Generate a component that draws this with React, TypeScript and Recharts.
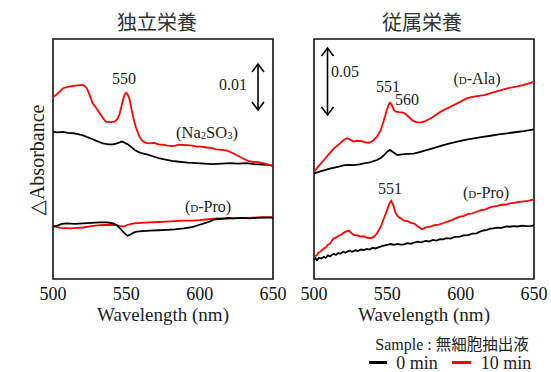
import React from 'react'
import { LineChart, Line, XAxis, YAxis, ReferenceArea } from 'recharts'

// ΔA values in units of 0.001 (left 0.01, right 0.05)
const wavelengthTicks = [500, 550, 600, 650]

// 独立栄養 panel
const naZero: [number, number][] = [
  [500, 32.0], [503, 31.9], [507, 32.0], [510, 31.8], [514, 31.7], [517, 31.5], [520, 31.3], [523, 30.9],
  [527, 30.4], [530, 30.0], [534, 29.5], [538, 29.3], [541, 29.3], [543.5, 29.5], [545.5, 29.7], [547, 29.9],
  [548, 29.8], [549.5, 29.5], [551, 29.3], [553, 28.8], [556, 28.0], [558.5, 27.6], [561, 27.3], [564, 27.1],
  [568, 26.7], [572, 26.3], [576, 26.0], [581, 25.7], [586, 25.5], [592, 25.3], [598, 25.2], [603, 25.1],
  [609, 25.0], [615, 25.1], [620.5, 25.2], [626, 25.1], [632, 25.2], [637, 25.0], [643, 24.9], [647, 24.8], [650, 24.6],
]
const naTen: [number, number][] = [
  [500, 39.6], [502, 40.0], [504, 40.6], [507, 41.5], [510, 41.8], [514, 42.0], [517, 42.1], [520, 42.2],
  [522, 41.9], [523.5, 41.2], [525, 40.0], [527, 38.2], [529, 37.4], [532, 36.0], [534, 35.0], [536, 34.2],
  [539, 34.1], [542, 34.2], [544, 34.8], [545.5, 36.0], [547, 38.0], [548, 39.3], [549, 40.2], [550, 40.5],
  [551, 40.1], [552, 39.3], [553.5, 37.0], [555, 34.8], [556.5, 33.0], [559, 30.9], [561, 30.0], [563.5, 29.6],
  [566, 29.5], [569, 29.6], [572, 29.3], [575, 29.2], [578, 29.0], [582, 28.9], [586, 29.2], [591, 29.1],
  [595, 29.0], [598, 28.8], [601, 28.8], [604.5, 28.6], [608, 28.5], [611, 28.2], [615, 28.1], [618, 28.0],
  [621, 27.6], [623, 27.3], [626, 26.8], [629.5, 26.2], [633, 25.7], [636, 25.5], [640, 25.4], [643, 25.2],
  [647, 24.9], [650, 24.6],
]
const lProZero: [number, number][] = [
  [500, 11.4], [503, 11.6], [506, 12.0], [509, 12.1], [515, 12.0], [520.7, 12.1], [526, 12.2], [532, 12.3],
  [537, 12.3], [541, 12.1], [543.5, 11.7], [545.7, 11.0], [548, 10.2], [550, 9.6], [551, 9.4], [553, 9.7],
  [555, 10.1], [557, 10.3], [561, 10.4], [566, 10.5], [572, 10.6], [577.5, 10.7], [583, 10.8], [589, 11.0],
  [593, 11.2], [596, 11.4], [600, 11.8], [604, 12.2], [607, 12.5], [609.5, 12.9], [611.6, 13.0], [615, 13.1],
  [619, 13.3], [623, 13.2], [628, 13.3], [634, 13.2], [639, 13.3], [644, 13.4], [650, 13.3],
]
const lProTen: [number, number][] = [
  [500, 11.5], [505, 11.1], [511.6, 11.0], [516, 11.1], [520.7, 11.2], [526, 11.5], [532, 11.7], [538, 11.8],
  [543, 11.7], [546, 11.5], [548, 11.4], [551, 11.8], [555, 12.1], [560, 12.2], [566, 12.3], [572, 12.4],
  [577.5, 12.5], [583, 12.6], [589, 12.7], [595, 12.7], [600, 12.8], [606, 13.0], [611.6, 13.2], [617, 13.1],
  [623, 13.2], [628, 13.3], [634, 13.3], [640, 13.4], [645, 13.4], [650, 13.5],
]

// 従属栄養 panel
const alaZero: [number, number][] = [
  [500, 78.9], [505, 80.5], [511.4, 82.6], [517, 83.8], [520, 84.8], [522.7, 85.1], [527, 85.0], [531, 85.6],
  [534, 86.3], [538, 87.0], [543, 88.8], [545.5, 90.3], [547.7, 92.5], [550, 95.0], [551.8, 96.3], [553.5, 95.0],
  [556.8, 92.5], [560, 93.0], [563.6, 93.3], [568, 93.6], [572, 94.7], [576, 95.9], [581, 97.5], [586.4, 99.3],
  [592, 101.0], [597.7, 102.5], [603, 103.8], [609, 105.0], [615, 106.0], [620.5, 106.9], [626, 107.9],
  [631.8, 108.7], [637, 109.5], [643, 110.4], [650, 111.7],
]
const alaTen: [number, number][] = [
  [500, 80.1], [503, 84.0], [506.8, 88.8], [510, 93.0], [513.6, 97.5], [517, 100.5], [520, 103.5], [522.7, 105.0],
  [525, 103.8], [527, 102.5], [529, 103.0], [531.8, 103.0], [535, 102.0], [537.5, 101.7], [540, 103.0],
  [543, 106.2], [545.5, 111.0], [547.7, 118.7], [549.5, 125.5], [551, 130.5], [551.8, 131.6], [553, 130.0],
  [554.5, 126.0], [555.7, 124.9], [558, 124.5], [560, 124.4], [562, 123.5], [564.8, 120.7], [567.5, 118.0],
  [570.4, 116.9], [573, 116.9], [575, 117.4], [580, 120.2], [586.4, 124.9], [592, 128.0], [597.7, 131.1],
  [604.5, 134.9], [610, 136.2], [616, 137.3], [624, 139.8], [631.8, 142.3], [638, 143.6], [643, 144.8], [650, 147.2],
]
const rProZero: [number, number][] = [
  [500, 14.2], [501, 15.6], [502, 14.0], [503.5, 15.9], [505, 15.3], [506.8, 16.6], [508, 15.8], [509.5, 17.6],
  [511, 16.9], [512.5, 18.3], [513.6, 18.7], [515, 17.9], [516.5, 19.4], [518, 18.8], [520, 20.3], [521.5, 19.6],
  [522.7, 20.4], [524.5, 21.2], [526, 20.3], [528, 21.4], [530, 20.9], [532, 22.0], [534, 21.6], [536, 22.5],
  [538, 22.0], [540, 23.3], [542, 22.8], [545.4, 24.1], [547, 24.8], [549, 25.3], [550.5, 25.6], [552.3, 26.1],
  [554.5, 25.5], [557, 26.2], [559, 25.6], [561.4, 25.9], [563.5, 26.8], [566, 26.3], [568.2, 27.1], [570.5, 27.8],
  [573, 27.3], [576, 28.4], [578.5, 28.0], [581, 29.2], [583.5, 28.7], [586, 29.8], [588, 29.6], [590.5, 30.5],
  [593, 30.2], [596, 31.4], [599.5, 31.6], [602, 32.6], [605, 32.8], [608, 33.9], [610.9, 34.1], [613, 35.3],
  [615.5, 36.2], [618, 36.7], [620, 37.5], [622, 37.8], [625, 38.4], [628, 38.2], [631, 39.2], [633.6, 39.0],
  [636, 39.5], [639, 39.2], [642, 39.8], [645, 39.4], [648.4, 39.6], [650, 40.0],
]
const rProTen: [number, number][] = [
  [501, 17.0], [502, 17.9], [503, 19.5], [504.5, 20.6], [506.8, 22.9], [508, 23.5], [509.5, 25.6], [511, 26.4],
  [512.5, 29.0], [513.6, 30.4], [515, 30.8], [517, 32.5], [518.5, 33.0], [520.4, 34.6], [522, 35.5], [523.9, 36.0],
  [525.5, 34.2], [527.3, 32.8], [529.5, 32.5], [531.8, 31.6], [534, 31.9], [536, 30.8], [538.6, 30.4], [541, 31.6],
  [543, 34.1], [545.5, 39.0], [547.7, 45.3], [550, 52.0], [551.5, 56.5], [552.7, 58.4], [554, 55.2], [555.7, 49.0],
  [557.5, 46.4], [559.5, 45.0], [561.4, 43.5], [564, 43.2], [566, 41.8], [568, 41.6], [570.5, 39.5], [573.4, 37.1],
  [576, 38.5], [579, 38.9], [582, 40.2], [585, 40.6], [588, 41.6], [591, 42.8], [594, 43.9], [596.5, 45.2],
  [599.5, 46.5], [602, 47.0], [605, 48.6], [608, 49.0], [610.9, 50.2], [614, 51.4], [617, 52.0], [619.5, 53.3],
  [622, 54.0], [625, 54.6], [628, 55.4], [631, 55.6], [633.6, 56.5], [637, 57.0], [640, 57.6], [643, 58.0],
  [646, 58.3], [648.4, 59.0], [650, 59.2],
]

const serif = 'Liberation Serif, DejaVu Serif, serif'
const cjk = 'Noto Sans CJK JP, sans-serif'

const toPts = (a: [number, number][]) => a.map(([x, y]) => ({ x, y }))

function Txt({ x, y, size = 16, font = serif, color = '#222', children }: any) {
  return (
    <div
      style={{
        position: 'absolute', left: x, top: y, transform: 'translate(-50%, -50%)',
        fontFamily: font, fontSize: size, color, whiteSpace: 'nowrap', lineHeight: 1,
      }}
    >
      {children}
    </div>
  )
}

function Panel({ left, yMax, series }: { left: number; yMax: number; series: { pts: [number, number][]; color: string }[] }) {
  return (
    <div style={{ position: 'absolute', left, top: 0, fontFamily: serif }}>
      <LineChart width={290} height={330} margin={{ top: 39, left: 53, right: 17, bottom: 21 }} style={{ fontFamily: serif }}>
        <XAxis
          dataKey="x" type="number" domain={[500, 650]} ticks={wavelengthTicks}
          axisLine={false} tickLine={false} height={30}
          tick={{ fill: '#111', fontSize: 18, fontFamily: serif }}
          allowDataOverflow
        />
        <YAxis type="number" domain={[0, yMax]} hide allowDataOverflow />
        {series.map((s, i) => (
          <Line
            key={i} data={toPts(s.pts)} dataKey="y" type="linear" stroke={s.color}
            strokeWidth={1.8} dot={false} isAnimationActive={false}
          />
        ))}
        <ReferenceArea x1={500} x2={650} y1={0} y2={yMax} fill="none" stroke="#111" strokeWidth={1.6} fillOpacity={0} />
      </LineChart>
    </div>
  )
}

function DoubleArrow({ x, y1, y2 }: { x: number; y1: number; y2: number }) {
  const h = 8
  return (
    <g stroke="#000" strokeWidth={1.6} fill="none">
      <line x1={x} y1={y1} x2={x} y2={y2} />
      <polyline points={`${x - 6},${y1 + h} ${x},${y1} ${x + 6},${y1 + h}`} />
      <polyline points={`${x - 6},${y2 - h} ${x},${y2} ${x + 6},${y2 - h}`} />
    </g>
  )
}

const sub = { fontSize: '0.65em', verticalAlign: '-0.15em' }
const sc = { fontVariant: 'small-caps' as const }

export default function App() {
  return (
    <div style={{ position: 'absolute', left: 0, top: 0, width: 551, height: 372, background: '#fff', fontFamily: serif }}>
      <Panel left={0} yMax={52.2} series={[
        { pts: naZero, color: '#000' }, { pts: naTen, color: '#ff0000' },
        { pts: lProTen, color: '#ff0000' }, { pts: lProZero, color: '#000' },
      ]} />
      <Panel left={261} yMax={179.1} series={[
        { pts: alaZero, color: '#000' }, { pts: alaTen, color: '#ff0000' },
        { pts: rProZero, color: '#000' }, { pts: rProTen, color: '#ff0000' },
      ]} />

      <svg width={551} height={372} style={{ position: 'absolute', left: 0, top: 0, pointerEvents: 'none' }}>
        <DoubleArrow x={258} y1={64} y2={110} />
        <DoubleArrow x={327.5} y1={48} y2={115} />
        <line x1={369} y1={362.5} x2={387} y2={362.5} stroke="#000" strokeWidth={3} />
        <line x1={452} y1={362.5} x2={471} y2={362.5} stroke="#ff0000" strokeWidth={3} />
      </svg>

      <Txt x={157} y={22} size={20} font={cjk} color="#333">独立栄養</Txt>
      <Txt x={422} y={22} size={20} font={cjk} color="#333">従属栄養</Txt>

      <div style={{
        position: 'absolute', left: 37, top: 160, transform: 'translate(-50%, -50%) rotate(-90deg)',
        fontFamily: serif, fontSize: 20, color: '#222', whiteSpace: 'nowrap', lineHeight: 1,
      }}>△Absorbance</div>

      <Txt x={163} y={314} size={19}>Wavelength (nm)</Txt>
      <Txt x={424} y={314} size={19}>Wavelength (nm)</Txt>

      <Txt x={124} y={79}>550</Txt>
      <Txt x={233} y={85}>0.01</Txt>
      <Txt x={207} y={133} size={16.5}>(Na<span style={sub}>2</span>SO<span style={sub}>3</span>)</Txt>
      <Txt x={208} y={207}>(<span style={sc}>d</span>-Pro)</Txt>

      <Txt x={345} y={72}>0.05</Txt>
      <Txt x={388} y={87}>551</Txt>
      <Txt x={407} y={100}>560</Txt>
      <Txt x={477} y={79}>(<span style={sc}>d</span>-Ala)</Txt>
      <Txt x={390} y={189}>551</Txt>
      <Txt x={486} y={193}>(<span style={sc}>d</span>-Pro)</Txt>

      <Txt x={452} y={344} size={16}>Sample : <span style={{ fontFamily: cjk, fontSize: 15.5 }}>無細胞抽出液</span></Txt>
      <Txt x={417} y={363} size={18}>0 min</Txt>
      <Txt x={506} y={363} size={18}>10 min</Txt>
    </div>
  )
}
